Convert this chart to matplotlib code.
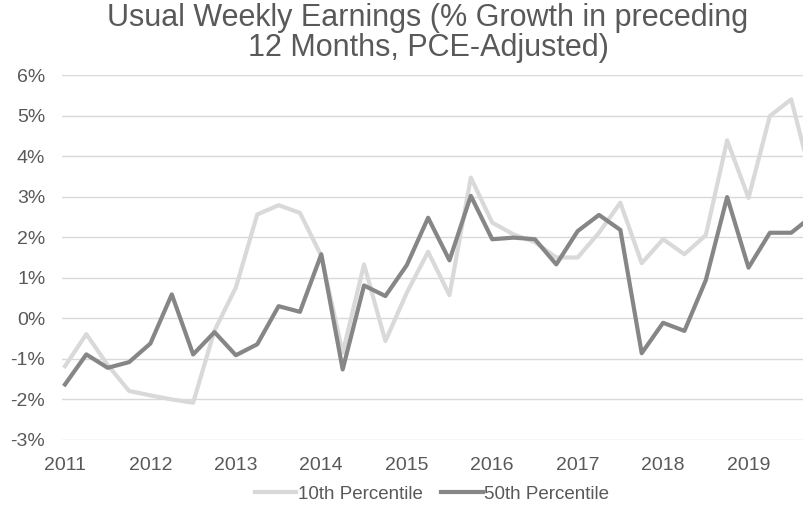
import matplotlib
matplotlib.use("Agg")
import matplotlib.pyplot as plt
import numpy as np

plt.rcParams['font.family'] = ['Liberation Sans', 'DejaVu Sans']

years = ["2011", "2012", "2013", "2014", "2015", "2016", "2017", "2018", "2019"]

p10 = [-1.18, -0.39, -1.15, -1.79, -1.90, -2.00, -2.08, -0.30,
       0.76, 2.56, 2.79, 2.60, 1.54, -0.85, 1.33, -0.56,
       0.63, 1.64, 0.57, 3.47, 2.36, 2.07, 1.88, 1.50,
       1.50, 2.11, 2.85, 1.36, 1.95, 1.58, 2.05, 4.39,
       2.97, 4.99, 5.40, 3.34]
p50 = [-1.63, -0.89, -1.22, -1.08, -0.62, 0.59, -0.89, -0.34,
       -0.91, -0.64, 0.30, 0.16, 1.58, -1.26, 0.81, 0.55,
       1.31, 2.48, 1.43, 3.02, 1.95, 1.99, 1.95, 1.33,
       2.15, 2.55, 2.18, -0.86, -0.11, -0.31, 0.94, 2.99,
       1.25, 2.11, 2.11, 2.53]

title = "Usual Weekly Earnings (% Growth in preceding\n12 Months, PCE-Adjusted)"

W, H = 804, 508
fig = plt.figure(figsize=(W / 100, H / 100), dpi=100)
left, right = 62, 819
bottom, top = 440, 75
ax = fig.add_axes([left / W, 1 - bottom / H, (right - left) / W, (bottom - top) / H])

x = np.arange(len(p10))
ax.plot(x, p10, color="#d9d9d9", lw=3.0, solid_joinstyle="round", label="10th Percentile", zorder=3)
ax.plot(x, p50, color="#868686", lw=3.0, solid_joinstyle="round", label="50th Percentile", zorder=4)

ax.set_xlim(-0.14, 35.3)
ax.set_ylim(-3, 6)
ax.set_yticks(np.arange(-3, 7, 1))
ax.set_yticklabels([f"{v}%" for v in range(-3, 7)])
ax.set_xticks(np.arange(0, 36, 4))
ax.set_xticklabels(years)
ax.grid(axis="y", color="#d9d9d9", lw=1.0, zorder=0)
for s in ax.spines.values():
    s.set_visible(False)
ax.tick_params(axis="both", length=0, labelsize=14, colors="#595959")
ax.tick_params(axis="y", pad=12)
ax.tick_params(axis="x", pad=12)

fig.text(428 / W, 1 - 3 / H, title, ha="center", va="top", fontsize=22,
         color="#595959", linespacing=0.98)

leg = fig.legend(loc="center", bbox_to_anchor=(432 / W, 1 - 494 / H), ncol=2, frameon=False,
                 fontsize=13.5, handlelength=2.2, columnspacing=1.0, handletextpad=0.1)
for t in leg.get_texts():
    t.set_color("#595959")

fig.savefig("out.png", dpi=100)
